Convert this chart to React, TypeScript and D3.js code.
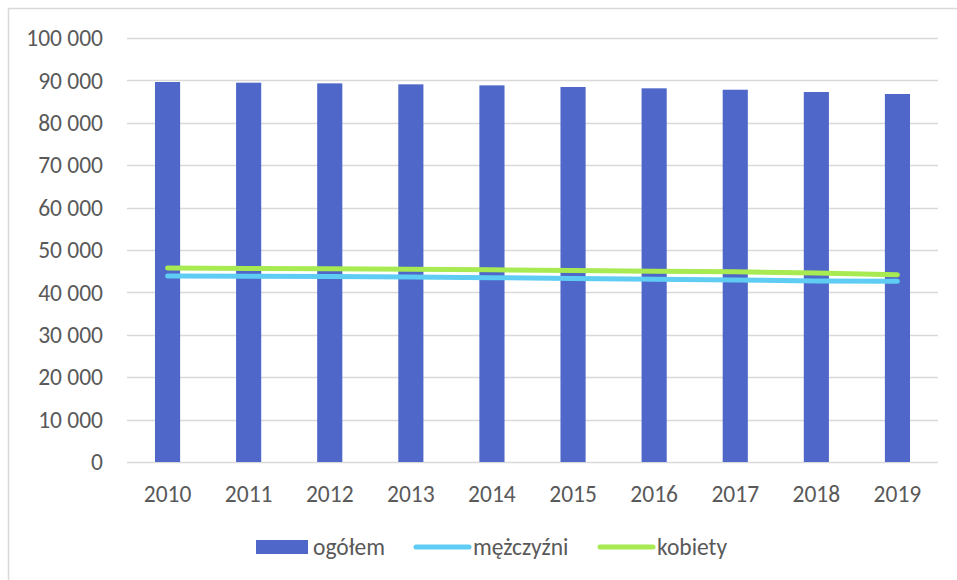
import React, { useRef, useEffect } from 'react';
import * as d3 from 'd3';

const years = ['2010', '2011', '2012', '2013', '2014', '2015', '2016', '2017', '2018', '2019'];
const total = [89620, 89460, 89300, 89070, 88830, 88440, 88130, 87800, 87260, 86790];
const men = [43870, 43810, 43750, 43620, 43480, 43290, 43130, 42950, 42710, 42610];
const women = [45750, 45650, 45550, 45450, 45350, 45150, 45000, 44850, 44550, 44180];
const yTicks = [0, 10000, 20000, 30000, 40000, 50000, 60000, 70000, 80000, 90000, 100000];

const COLORS = {
  bar: '#4E67C8',
  men: '#5ECCF3',
  women: '#A7EA52',
  grid: '#D9D9D9',
  text: '#595959',
};

const FONT = 'Carlito, Lato, "Open Sans", sans-serif';
const FS = 23.5;

const W = 957;
const H = 580;

export default function App() {
  const svgRef = useRef<SVGSVGElement>(null);

  useEffect(() => {
    if (!svgRef.current) return;
    const svg = d3.select(svgRef.current);
    svg.selectAll('*').remove();

    // chart frame (only left/top visible in the crop)
    svg.append('rect')
      .attr('x', 8.5).attr('y', 8.5)
      .attr('width', 1000).attr('height', 1000)
      .attr('fill', '#fff')
      .attr('stroke', '#D9D9D9')
      .attr('stroke-width', 1.5);

    const left = 127, right = 938, top = 38, bottom = 462;

    const x = d3.scaleBand<string>().domain(years).range([left, right]).paddingInner(0.69).paddingOuter(0.345);
    const y = d3.scaleLinear().domain([0, 100000]).range([bottom, top]);
    const cx = (d: string) => (x(d) ?? 0) + x.bandwidth() / 2;

    const fmt = (v: number) => d3.format(',')(v).replace(/,/g, ' ');

    // gridlines
    svg.append('g')
      .selectAll('line')
      .data(yTicks)
      .join('line')
      .attr('x1', left).attr('x2', right)
      .attr('y1', d => Math.round(y(d)) + 0.5).attr('y2', d => Math.round(y(d)) + 0.5)
      .attr('stroke', COLORS.grid)
      .attr('stroke-width', 1.5);

    // y labels
    svg.append('g')
      .selectAll('text')
      .data(yTicks)
      .join('text')
      .attr('x', 103)
      .attr('y', d => y(d))
      .attr('dy', '0.35em')
      .attr('text-anchor', 'end')
      .attr('font-family', FONT)
      .attr('font-size', FS)
      .attr('fill', COLORS.text)
      .text(d => fmt(d));

    // x labels
    svg.append('g')
      .selectAll('text')
      .data(years)
      .join('text')
      .attr('x', d => cx(d))
      .attr('y', 494)
      .attr('dy', '0.35em')
      .attr('text-anchor', 'middle')
      .attr('font-family', FONT)
      .attr('font-size', FS)
      .attr('fill', COLORS.text)
      .text(d => d);

    // bars
    svg.append('g')
      .selectAll('rect')
      .data(years)
      .join('rect')
      .attr('x', d => x(d) ?? 0)
      .attr('y', (_, i) => y(total[i]))
      .attr('width', x.bandwidth())
      .attr('height', (_, i) => bottom - y(total[i]))
      .attr('fill', COLORS.bar);

    // lines
    const line = d3.line<number>()
      .x((_, i) => cx(years[i]))
      .y(d => y(d));

    [[men, COLORS.men], [women, COLORS.women]].forEach(([vals, color]) => {
      svg.append('path')
        .datum(vals as number[])
        .attr('fill', 'none')
        .attr('stroke', color as string)
        .attr('stroke-width', 5)
        .attr('stroke-linecap', 'round')
        .attr('stroke-linejoin', 'round')
        .attr('d', line);
    });

    // legend
    const ly = 547;
    const lg = svg.append('g').attr('font-family', FONT).attr('font-size', FS).attr('fill', COLORS.text);
    lg.append('rect').attr('x', 256).attr('y', ly - 7).attr('width', 52).attr('height', 14).attr('fill', COLORS.bar);
    lg.append('text').attr('x', 313).attr('y', ly).attr('dy', '0.35em').text('ogółem');
    lg.append('line').attr('x1', 416).attr('x2', 469).attr('y1', ly).attr('y2', ly)
      .attr('stroke', COLORS.men).attr('stroke-width', 5).attr('stroke-linecap', 'round');
    lg.append('text').attr('x', 473).attr('y', ly).attr('dy', '0.35em').text('mężczyźni');
    lg.append('line').attr('x1', 600).attr('x2', 653).attr('y1', ly).attr('y2', ly)
      .attr('stroke', COLORS.women).attr('stroke-width', 5).attr('stroke-linecap', 'round');
    lg.append('text').attr('x', 657).attr('y', ly).attr('dy', '0.35em').text('kobiety');
  }, []);

  return (
    <div style={{ position: 'absolute', left: 0, top: 0, width: W, height: H, overflow: 'hidden', background: '#fff' }}>
      <svg ref={svgRef} width={W} height={H} style={{ display: 'block' }}></svg>
    </div>
  );
}
